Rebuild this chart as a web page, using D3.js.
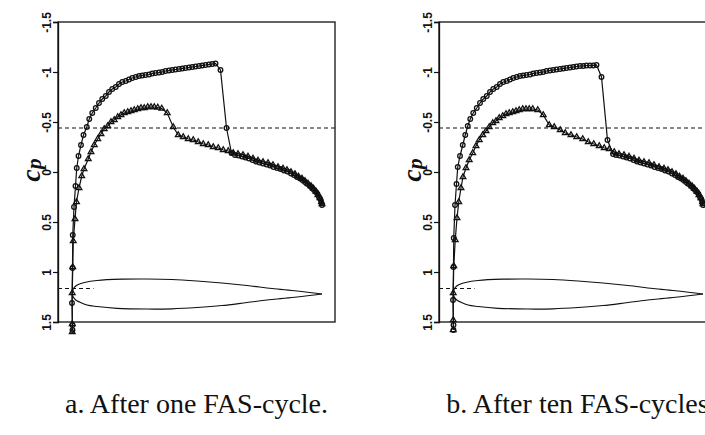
<!DOCTYPE html>
<html>
<head>
<meta charset="utf-8">
<script src="https://cdn.jsdelivr.net/npm/d3@7"></script>
<style>
body { margin: 0; background: #fff; }
svg { display: block; }
</style>
</head>
<body>
<svg id="chart" width="705" height="435"></svg>
<script>
// pressure coefficient along the upper surface, [x/c, Cp]
var circA = [
  [0.002,1.58],[0.002,1.53],[0.000,1.31],[0.002,0.96],[0.003,0.63],[0.008,0.35],[0.014,0.14],
  [0.019,-0.04],[0.026,-0.16],[0.036,-0.27],[0.046,-0.37],[0.059,-0.45],[0.069,-0.53],[0.081,-0.59],
  [0.095,-0.64],[0.108,-0.69],[0.121,-0.73],[0.135,-0.76],[0.148,-0.80],[0.161,-0.83],[0.175,-0.85],
  [0.188,-0.88],[0.201,-0.90],[0.215,-0.91],[0.228,-0.925],[0.241,-0.94],[0.255,-0.95],[0.268,-0.96],
  [0.281,-0.965],[0.294,-0.97],[0.308,-0.975],[0.321,-0.985],[0.334,-0.99],[0.348,-0.995],[0.361,-1.00],
  [0.374,-1.01],[0.388,-1.015],[0.401,-1.02],[0.414,-1.025],[0.428,-1.03],[0.441,-1.035],[0.454,-1.04],
  [0.468,-1.045],[0.481,-1.05],[0.494,-1.055],[0.508,-1.06],[0.521,-1.065],[0.534,-1.07],[0.548,-1.075],
  [0.561,-1.08],[0.574,-1.085],[0.594,-1.02],[0.618,-0.44],[0.638,-0.19],
  [0.652,-0.17],[0.666,-0.165],[0.680,-0.155],[0.694,-0.145],[0.708,-0.135],[0.722,-0.12],[0.736,-0.105],
  [0.750,-0.095],[0.764,-0.085],[0.778,-0.075],[0.792,-0.065],[0.806,-0.05],[0.820,-0.04],[0.834,-0.03],
  [0.848,-0.015],[0.862,-0.005],[0.876,0.015],[0.888,0.03],[0.900,0.05],[0.912,0.065],[0.922,0.08],
  [0.932,0.10],[0.942,0.12],[0.952,0.14],[0.960,0.16],[0.968,0.18],[0.976,0.20],[0.982,0.22],
  [0.988,0.25],[0.993,0.27],[0.997,0.30],[1.000,0.33]
];

var triA = [
  [0.001,1.60],[0.001,1.52],[0.001,1.21],[0.003,0.95],[0.005,0.69],[0.012,0.47],[0.018,0.30],
  [0.028,0.16],[0.039,0.04],[0.048,-0.03],[0.065,-0.13],[0.076,-0.20],[0.089,-0.27],[0.103,-0.33],
  [0.116,-0.38],[0.129,-0.43],[0.143,-0.46],[0.156,-0.50],[0.169,-0.52],[0.183,-0.55],[0.196,-0.57],
  [0.209,-0.59],[0.223,-0.60],[0.236,-0.61],[0.249,-0.62],[0.263,-0.63],[0.276,-0.64],[0.289,-0.64],
  [0.303,-0.65],[0.316,-0.65],[0.329,-0.65],[0.343,-0.645],[0.359,-0.635],[0.381,-0.59],[0.405,-0.45],
  [0.425,-0.37],[0.445,-0.35],[0.465,-0.33],[0.485,-0.32],[0.505,-0.30],[0.525,-0.28],[0.545,-0.27],
  [0.565,-0.25],[0.585,-0.24],[0.605,-0.22],[0.625,-0.21],[0.645,-0.19],
  [0.664,-0.18],[0.684,-0.17],[0.704,-0.155],[0.724,-0.135],[0.744,-0.115],[0.764,-0.10],[0.784,-0.09],
  [0.804,-0.07],[0.824,-0.05],[0.844,-0.035],[0.860,-0.02],[0.876,0.0],[0.892,0.02],[0.906,0.045],
  [0.920,0.065],[0.932,0.09],[0.944,0.115],[0.956,0.14],[0.966,0.165],[0.976,0.195],[0.984,0.23],
  [0.992,0.26],[0.998,0.30],[1.000,0.32]
];

var circB = [
  [0.002,1.58],[0.002,1.53],[0.000,1.28],[0.002,0.95],[0.003,0.66],[0.008,0.33],[0.014,0.12],
  [0.019,-0.05],[0.028,-0.16],[0.039,-0.27],[0.049,-0.37],[0.059,-0.46],[0.069,-0.53],[0.081,-0.59],
  [0.095,-0.64],[0.108,-0.69],[0.121,-0.73],[0.135,-0.76],[0.148,-0.80],[0.161,-0.83],[0.175,-0.85],
  [0.188,-0.88],[0.201,-0.90],[0.215,-0.91],[0.228,-0.925],[0.241,-0.94],[0.255,-0.95],[0.268,-0.96],
  [0.281,-0.965],[0.294,-0.97],[0.308,-0.975],[0.321,-0.985],[0.334,-0.99],[0.348,-0.995],[0.361,-1.00],
  [0.374,-1.01],[0.388,-1.015],[0.401,-1.02],[0.414,-1.025],[0.428,-1.03],[0.441,-1.035],[0.454,-1.04],
  [0.468,-1.045],[0.481,-1.05],[0.494,-1.055],[0.508,-1.06],[0.521,-1.06],[0.534,-1.065],[0.548,-1.065],
  [0.561,-1.065],[0.574,-1.07],[0.594,-0.95],[0.618,-0.32],[0.640,-0.18],
  [0.652,-0.17],[0.666,-0.165],[0.680,-0.155],[0.694,-0.145],[0.708,-0.135],[0.722,-0.12],[0.736,-0.105],
  [0.750,-0.095],[0.764,-0.085],[0.778,-0.075],[0.792,-0.065],[0.806,-0.05],[0.820,-0.04],[0.834,-0.03],
  [0.848,-0.015],[0.862,-0.005],[0.876,0.015],[0.888,0.03],[0.900,0.05],[0.912,0.065],[0.922,0.08],
  [0.932,0.10],[0.942,0.12],[0.952,0.14],[0.960,0.16],[0.968,0.18],[0.976,0.20],[0.982,0.22],
  [0.988,0.25],[0.993,0.27],[0.997,0.30],[1.000,0.33]
];

var triB = [
  [0.001,1.58],[0.001,1.48],[0.001,1.21],[0.003,0.94],[0.009,0.68],[0.016,0.46],[0.023,0.30],
  [0.032,0.16],[0.040,0.05],[0.052,-0.04],[0.065,-0.12],[0.079,-0.19],[0.092,-0.26],[0.105,-0.32],
  [0.119,-0.37],[0.132,-0.41],[0.145,-0.45],[0.159,-0.49],[0.172,-0.51],[0.185,-0.54],[0.199,-0.56],
  [0.212,-0.58],[0.225,-0.59],[0.239,-0.60],[0.252,-0.61],[0.265,-0.62],[0.279,-0.63],[0.292,-0.63],
  [0.305,-0.63],[0.319,-0.63],[0.339,-0.62],[0.361,-0.57],[0.385,-0.47],[0.405,-0.45],[0.429,-0.42],
  [0.449,-0.39],[0.472,-0.37],[0.495,-0.35],[0.519,-0.33],[0.541,-0.30],[0.563,-0.28],[0.585,-0.26],
  [0.605,-0.24],[0.625,-0.23],[0.645,-0.20],
  [0.664,-0.18],[0.684,-0.17],[0.704,-0.155],[0.724,-0.135],[0.744,-0.115],[0.764,-0.10],[0.784,-0.09],
  [0.804,-0.07],[0.824,-0.05],[0.844,-0.035],[0.860,-0.02],[0.876,0.0],[0.892,0.02],[0.906,0.045],
  [0.920,0.065],[0.932,0.09],[0.944,0.115],[0.956,0.14],[0.966,0.165],[0.976,0.195],[0.984,0.23],
  [0.992,0.26],[0.998,0.30],[1.000,0.32]
];

// airfoil outline drawn under the curves (same axes, y in Cp units)
var foilUpper = [[0,1.215],[0.005,1.17],[0.015,1.14],[0.03,1.12],[0.05,1.105],[0.1,1.085],[0.2,1.072],
  [0.3,1.07],[0.4,1.075],[0.5,1.09],[0.6,1.11],[0.7,1.135],[0.8,1.165],[0.9,1.19],[1,1.22]];
var foilLower = [[0,1.215],[0.005,1.25],[0.015,1.28],[0.03,1.30],[0.06,1.33],[0.1,1.345],[0.18,1.363],
  [0.3,1.37],[0.4,1.368],[0.5,1.355],[0.6,1.335],[0.7,1.305],[0.8,1.275],[0.9,1.25],[1,1.22]];

var cpStar = -0.44;          // long dashed line
var noseMark = [1.165, 0.086]; // short dashed line at the nose: Cp, x end
var yTicks = [-1.5, -1, -0.5, 0, 0.5, 1, 1.5];
var captions = ['a. After one FAS-cycle.', 'b. After ten FAS-cycles'];

var svg = d3.select('#chart');
var panelLeft = [58, 439];
var panelTop = 22, plotW = 277, plotH = 300;

var x = d3.scaleLinear().domain([-0.056, 1.052]).range([0, plotW]);
var y = d3.scaleLinear().domain([-1.5, 1.5]).range([0, plotH]);

var line = d3.line().x(function(d){ return x(d[0]); }).y(function(d){ return y(d[1]); });
var foilLine = d3.line().curve(d3.curveCatmullRom.alpha(0.5))
    .x(function(d){ return x(d[0]); }).y(function(d){ return y(d[1]); });
var tri = d3.symbol().type(d3.symbolTriangle).size(14);

function drawPanel(i, circ, tris){
    var g = svg.append('g').attr('transform', 'translate(' + panelLeft[i] + ',' + panelTop + ')');

    // frame
    g.append('rect')
        .attr('x', 0).attr('y', 0)
        .attr('width', plotW).attr('height', plotH)
        .attr('fill', 'none').attr('stroke', '#111').attr('stroke-width', 1.3);

    var ax = g.append('g')
        .call(d3.axisLeft(y).tickValues(yTicks).tickSize(5).tickFormat(function(d){ return String(d); }));
    ax.select('.domain').attr('stroke', '#111').attr('stroke-width', 1.3);
    ax.selectAll('.tick line').attr('stroke', '#111').attr('stroke-width', 1.2);
    ax.selectAll('.tick text')
        .attr('x', 0).attr('y', -7).attr('dy', null)
        .attr('transform', 'rotate(-90)')
        .attr('text-anchor', 'middle')
        .attr('fill', '#111')
        .style('font-family', '"Liberation Sans Narrow", "Liberation Sans", Arial, sans-serif')
        .style('font-weight', 'bold')
        .style('font-size', '12px');

    // y label c_p
    var lab = g.append('text')
        .attr('transform', 'translate(-18,' + (y(0) - 2) + ') rotate(-90)')
        .attr('text-anchor', 'middle')
        .style('font-family', '"Liberation Serif", "Times New Roman", serif')
        .style('font-style', 'italic')
        .style('font-weight', 'bold')
        .attr('fill', '#111');
    lab.append('tspan').style('font-size', '28px').text('c');
    lab.append('tspan').style('font-size', '22px').attr('dy', 1).text('p');

    // dashed reference lines
    g.append('line')
        .attr('x1', 0).attr('x2', i === 0 ? plotW : 705 - panelLeft[i])
        .attr('y1', y(cpStar)).attr('y2', y(cpStar))
        .attr('stroke', '#111').attr('stroke-width', 1.2).attr('stroke-dasharray', '4,3');
    g.append('line')
        .attr('x1', 0).attr('x2', x(noseMark[1]))
        .attr('y1', y(noseMark[0])).attr('y2', y(noseMark[0]))
        .attr('stroke', '#111').attr('stroke-width', 1.1).attr('stroke-dasharray', '4,3');

    // airfoil
    g.append('path').datum(foilUpper).attr('d', foilLine)
        .attr('fill', 'none').attr('stroke', '#111').attr('stroke-width', 1.2);
    g.append('path').datum(foilLower).attr('d', foilLine)
        .attr('fill', 'none').attr('stroke', '#111').attr('stroke-width', 1.2);

    // triangles series
    g.append('path').datum(tris).attr('d', line)
        .attr('fill', 'none').attr('stroke', '#111').attr('stroke-width', 1.2);
    g.selectAll('path.tri').data(tris).enter().append('path')
        .attr('class', 'tri')
        .attr('d', tri)
        .attr('transform', function(d){ return 'translate(' + x(d[0]) + ',' + y(d[1]) + ')'; })
        .attr('fill', 'none').attr('stroke', '#111').attr('stroke-width', 1.3);

    // circles series
    g.append('path').datum(circ).attr('d', line)
        .attr('fill', 'none').attr('stroke', '#111').attr('stroke-width', 1.2);
    g.selectAll('circle.pt').data(circ).enter().append('circle')
        .attr('class', 'pt')
        .attr('cx', function(d){ return x(d[0]); })
        .attr('cy', function(d){ return y(d[1]); })
        .attr('r', 2.3)
        .attr('fill', 'none').attr('stroke', '#111').attr('stroke-width', 1.3);
}

drawPanel(0, circA, triA);
drawPanel(1, circB, triB);

// captions centred under each panel (the second runs off the right edge, as in the source)
svg.selectAll('text.caption').data(captions).enter().append('text')
    .attr('class', 'caption')
    .attr('x', function(d, i){ return panelLeft[i] + plotW / 2; })
    .attr('y', 413)
    .attr('text-anchor', 'middle')
    .style('font-family', '"Liberation Serif", "Times New Roman", serif')
    .style('font-size', '28px')
    .attr('fill', '#111')
    .text(function(d){ return d; });
</script>
</body>
</html>
